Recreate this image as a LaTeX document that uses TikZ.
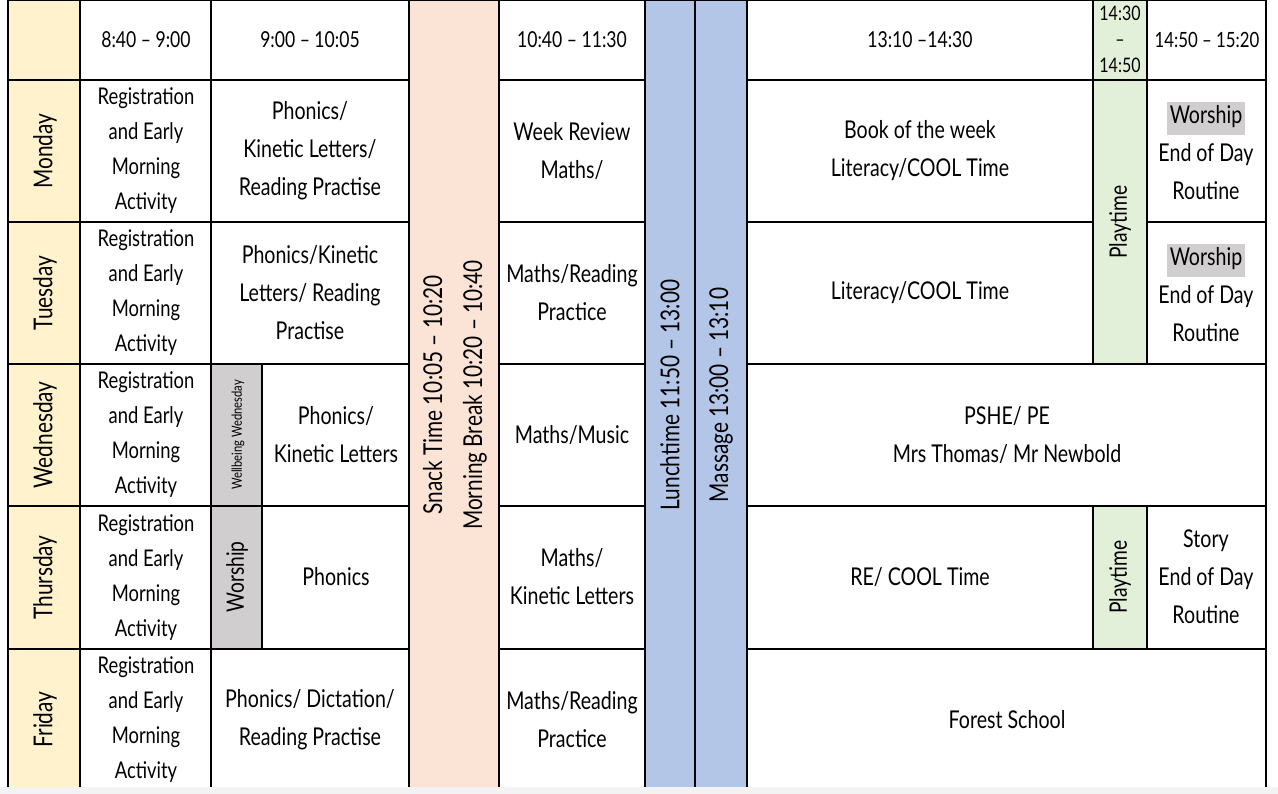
\documentclass[tikz,border=0pt]{standalone}
\usepackage{fontspec}
\usepackage{xcolor}
\setmainfont{Lato}[FakeStretch=0.8]
\definecolor{dayyellow}{HTML}{FFF2CC}
\definecolor{snackpeach}{HTML}{FBE4D5}
\definecolor{lunchblue}{HTML}{B4C6E7}
\definecolor{playgreen}{HTML}{E2EFD9}
\definecolor{worshipgray}{HTML}{D0CECE}
\definecolor{stripgray}{HTML}{F3F3F3}
\newcommand{\hilite}[1]{{\setlength{\fboxsep}{3pt}\colorbox{worshipgray}{\rule[-9pt]{0pt}{25pt}#1}}}

\begin{document}
\begin{tikzpicture}[x=1pt,y=-1pt,line width=1.2pt,
	txt/.style={align=center,inner sep=0pt,font=\fontsize{24.5}{38}\selectfont},
	regtxt/.style={txt,font=\fontsize{23}{35}\selectfont},
	hdtxt/.style={txt,font=\fontsize{22}{26}\selectfont},
	vtxt/.style={txt,rotate=90,font=\fontsize{26}{40}\selectfont},
	smalltxt/.style={txt,rotate=90,font=\fontsize{14}{16}\selectfont}]
	
	\useasboundingbox (0,0) rectangle (1278,794);
	
	% header row
	\draw[fill=dayyellow] (8,0) rectangle (80,80);
	\foreach \xa/\xb in {80/211,211/409,499/645,747/1093,1147/1266}
	\draw (\xa,0) rectangle (\xb,80);
	\draw[fill=playgreen] (1093,0) rectangle (1147,80);
	\node[hdtxt] (t840) at (146,40) {8:40 -- 9:00};
	\node[hdtxt] (t900) at (310,40) {9:00 -- 10:05};
	\node[hdtxt] (t1040) at (572,40) {10:40 -- 11:30};
	\node[hdtxt] (t1310) at (920,40) {13:10 --14:30};
	\node[hdtxt,font=\fontsize{20}{26}\selectfont] (t1430) at (1120,39) {14:30\\--\\14:50};
	\node[hdtxt,font=\fontsize{21}{26}\selectfont] (t1450) at (1207,40) {14:50 -- 15:20};
	
	% days, registration and maths columns
	\foreach \day/\ya/\yb in {Monday/80/222,Tuesday/222/364,Wednesday/364/506,Thursday/506/649,Friday/649/790}{
		\draw[fill=dayyellow] (8,\ya) rectangle (80,\yb);
		\node[vtxt] (day-\day) at (45,{(\ya+\yb)/2}) {\day};
		\draw (80,\ya) rectangle (211,\yb);
		\node[regtxt] (reg-\day) at (146,{(\ya+\yb)/2}) {Registration\\and Early\\Morning\\Activity};
		\draw (499,\ya) rectangle (645,\yb);
	}
	
	% phonics column
	\draw (211,80) rectangle (409,222);
	\draw (211,222) rectangle (409,364);
	\draw[fill=worshipgray] (211,364) rectangle (262,506);
	\draw (262,364) rectangle (409,506);
	\draw[fill=worshipgray] (211,506) rectangle (262,649);
	\draw (262,506) rectangle (409,649);
	\draw (211,649) rectangle (409,790);
	\node[txt] (ph-mon) at (310,151) {Phonics/\\Kinetic Letters/\\Reading Practise};
	\node[txt] (ph-tue) at (310,293) {Phonics/Kinetic\\Letters/ Reading\\Practise};
	\node[smalltxt] (wellbeing) at (238,435) {Wellbeing Wednesday};
	\node[txt] (ph-wed) at (336,435) {Phonics/\\Kinetic Letters};
	\node[vtxt,font=\fontsize{24}{30}\selectfont] (worship-thu) at (237,577) {Worship};
	\node[txt] (ph-thu) at (336,577) {Phonics};
	\node[txt] (ph-fri) at (310,720) {Phonics/ Dictation/\\Reading Practise};
	
	% breaks
	\draw[fill=snackpeach] (409,0) rectangle (499,790);
	\node[vtxt] (snack) at (455,395) {Snack Time 10:05 -- 10:20\\Morning Break 10:20 -- 10:40};
	\draw[fill=lunchblue] (645,0) rectangle (695,790);
	\node[vtxt] (lunch) at (670,395) {Lunchtime 11:50 -- 13:00};
	\draw[fill=lunchblue] (695,0) rectangle (747,790);
	\node[vtxt] (massage) at (721,395) {Massage 13:00 -- 13:10};
	
	% maths column
	\node[txt] (m-mon) at (572,151) {Week Review\\Maths/};
	\node[txt] (m-tue) at (572,293) {Maths/Reading\\Practice};
	\node[txt] (m-wed) at (572,435) {Maths/Music};
	\node[txt] (m-thu) at (572,577) {Maths/\\Kinetic Letters};
	\node[txt] (m-fri) at (572,720) {Maths/Reading\\Practice};
	
	% afternoon
	\draw (747,80) rectangle (1093,222);
	\draw (747,222) rectangle (1093,364);
	\draw (747,364) rectangle (1266,506);
	\draw (747,506) rectangle (1093,649);
	\draw (747,649) rectangle (1266,790);
	\draw[fill=playgreen] (1093,80) rectangle (1147,364);
	\draw[fill=playgreen] (1093,506) rectangle (1147,649);
	\draw (1147,80) rectangle (1266,222);
	\draw (1147,222) rectangle (1266,364);
	\draw (1147,506) rectangle (1266,649);
	\node[txt] (pm-mon) at (920,151) {Book of the week\\Literacy/COOL Time};
	\node[txt] (pm-tue) at (920,293) {Literacy/COOL Time};
	\node[txt] (pm-wed) at (1007,435) {PSHE/ PE\\Mrs Thomas/ Mr Newbold};
	\node[txt] (pm-thu) at (920,577) {RE/ COOL Time};
	\node[txt] (pm-fri) at (1007,720) {Forest School};
	\node[vtxt,font=\fontsize{24}{30}\selectfont] (play-mt) at (1120,222) {Playtime};
	\node[vtxt,font=\fontsize{24}{30}\selectfont] (play-thu) at (1120,577) {Playtime};
	\node[txt] (end-mon) at (1206,151) {\hilite{Worship}\\End of Day\\Routine};
	\node[txt] (end-tue) at (1206,293) {\hilite{Worship}\\End of Day\\Routine};
	\node[txt] (end-thu) at (1206,577) {Story\\End of Day\\Routine};
	
	% page edge
	\fill[stripgray] (0,787) rectangle (1278,794);
	
\end{tikzpicture}
\end{document}
